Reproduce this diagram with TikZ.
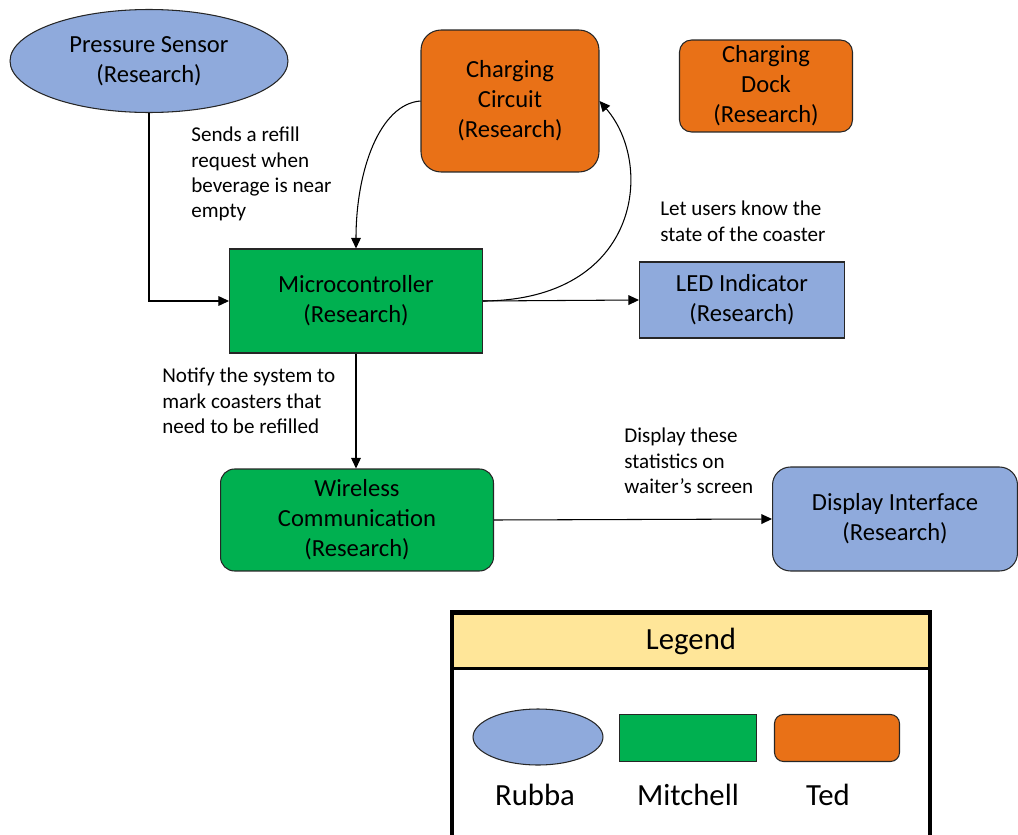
\documentclass[tikz,border=0pt]{standalone}
\usepackage{fontspec}
\setmainfont{Carlito}
\usetikzlibrary{positioning, arrows.meta, shapes.geometric}
\definecolor{rubbaBlue}{HTML}{8FAADC}
\definecolor{mitchellGreen}{HTML}{00B050}
\definecolor{tedOrange}{HTML}{E97117}
\definecolor{legendYellow}{HTML}{FFE699}
\colorlet{edgeGrey}{black!85}

\begin{document}
\begin{tikzpicture}[
        x=0.02cm, y=-0.02cm,
        box/.style={draw=edgeGrey, line width=0.6pt, align=center, inner sep=2pt,
            font=\fontsize{14}{17}\selectfont},
        rubba/.style={box, fill=rubbaBlue},
        mitchell/.style={box, fill=mitchellGreen},
        ted/.style={box, fill=tedOrange},
        oval/.style={ellipse, inner sep=0pt},
        note/.style={align=left, anchor=north west, inner sep=0pt,
            font=\fontsize{12}{14.4}\selectfont},
        arrow/.style={-{Triangle[length=6pt, width=5.5pt]}, line width=0.6pt},
        legendtext/.style={font=\fontsize{17.5}{21}\selectfont, inner sep=0pt},
        ]
        \useasboundingbox (0,0) rectangle (1018,835);

        % Sensor
        \node[rubba, oval, minimum width=5.56cm, minimum height=2.06cm] (ps) at (149,61)
        {Pressure Sensor\\(Research)};

        % Charging
        \node[ted, rounded corners=0.4cm, minimum width=3.56cm, minimum height=2.84cm] (cc) at (510,101)
        {Charging\\Circuit\\(Research)};
        \node[ted, rounded corners=0.24cm, minimum width=3.46cm, minimum height=1.84cm] (dock) at (766,86)
        {Charging\\Dock\\(Research)};

        % Microcontroller + LED
        \node[mitchell, minimum width=5.06cm, minimum height=2.08cm] (mc) at (356,301)
        {Microcontroller\\(Research)};
        \node[rubba, minimum width=4.1cm, minimum height=1.52cm] (led) at (742,300)
        {LED Indicator\\(Research)};

        % Wireless + display
        \node[mitchell, rounded corners=0.28cm, minimum width=5.46cm, minimum height=2.04cm] (wc) at (357,520)
        {Wireless\\Communication\\(Research)};
        \node[rubba, rounded corners=0.36cm, minimum width=4.9cm, minimum height=2.08cm] (di) at (895,519)
        {Display Interface\\(Research)};

        % Notes
        \node[note] (refillnote) at (191,127)
        {Sends a refill\\request when\\beverage is near\\empty};
        \node[note] (statenote) at (660,201)
        {Let users know the\\state of the coaster};
        \node[note] (notifynote) at (162,368)
        {Notify the system to\\mark coasters that\\need to be refilled};
        \node[note] (screennote) at (624,428)
        {Display these\\statistics on\\waiter’s screen};

        % Connectors
        \draw[arrow] (ps.south) |- (mc.west);
        \draw[arrow] (cc.west) .. controls (380,104) and (356,170) .. (mc.north);
        \draw[arrow] (mc.east) .. controls (640,300) and (655,165) .. (cc.east);
        \draw[arrow] (mc.east) -- (led.west);
        \draw[arrow] (mc.south) -- (mc.south |- wc.north);
        \draw[arrow] (wc.east) -- (di.west);

        % Legend
        \node[draw, line width=2.3pt, minimum width=9.56cm, minimum height=4.56cm] (legframe) at (691,726) {};
        \node[draw, line width=2pt, fill=legendYellow, minimum width=9.56cm, minimum height=1.1cm,
            legendtext] (legend) at (691,641) {Legend};
        \node[rubba, oval, minimum width=2.6cm, minimum height=1.12cm] (legrubba) at (538,737) {};
        \node[mitchell, minimum width=2.74cm, minimum height=0.94cm] (legmitchell) at (688,738) {};
        \node[ted, rounded corners=0.18cm, minimum width=2.5cm, minimum height=0.94cm] (legted) at (837,738) {};
        \node[legendtext] (rubbaname) at (535,795) {Rubba};
        \node[legendtext] (mitchellname) at (688,795) {Mitchell};
        \node[legendtext] (tedname) at (828,795) {Ted};
    \end{tikzpicture}
\end{document}
